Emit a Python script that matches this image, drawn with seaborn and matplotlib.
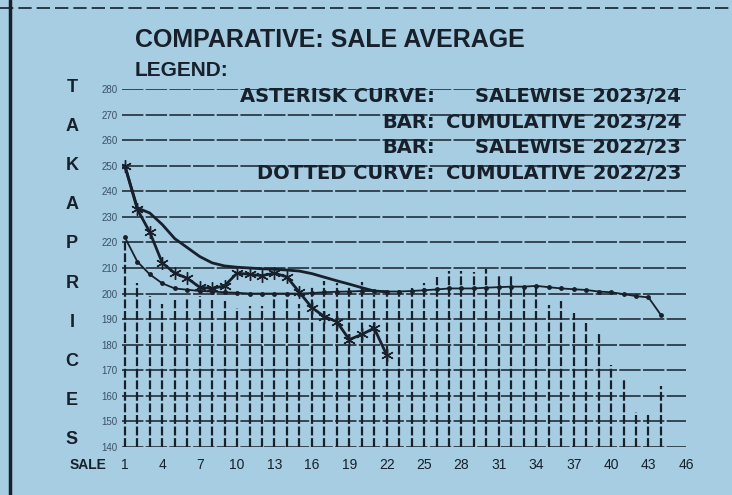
import numpy as np
import pandas as pd
import seaborn as sns
import matplotlib.pyplot as plt
from matplotlib.lines import Line2D

# data
sales = list(range(1, 45))
sale_2022 = [222, 204, 199, 196, 197.5, 198, 199, 197.5, 197, 194.5,
             195, 195, 198, 198, 196, 203, 205, 204, 203, 204.5,
             199.5, 200, 201.5, 202, 204, 206.5, 209, 209, 208.5, 209.5,
             207, 207, 203, 203, 195.5, 197, 192.5, 188.5, 184.5, 172,
             167, 153.5, 153, 164]
cum_2022 = [222, 212.5, 207.5, 204, 202, 201.5, 201, 200.8, 200.5, 200.3,
            200, 200, 200, 200, 200, 200.2, 200.5, 200.7, 200.8, 201,
            201, 200.8, 200.8, 201, 201.3, 201.6, 202, 202, 202, 202.3,
            202.5, 202.7, 202.7, 203, 202.5, 202, 201.7, 201.4, 200.8, 200.5,
            199.8, 199, 198.5, 191.6]
sales_2023 = list(range(1, 23))
sale_2023 = [250, 233, 224, 212, 208, 206, 202.5, 202, 203, 208,
             207.5, 207, 208, 206.5, 200.5, 194.5, 191, 189, 182, 184,
             186.5, 176]
cum_2023 = [250, 233.5, 231.5, 227, 221.5, 218, 214.5, 212, 210.8, 210.3,
            210, 209.7, 209.5, 209.2, 208.8, 207.8, 206.4, 205, 203.7, 202.3,
            201, 200.7]

y_ticks = list(range(140, 290, 10))
x_ticks = list(range(1, 47, 3))
title = "COMPARATIVE: SALE AVERAGE"
legend_keys = ["ASTERISK CURVE:", "BAR:", "BAR:", "DOTTED CURVE:"]
legend_vals = ["SALEWISE 2023/24", "CUMULATIVE 2023/24", "SALEWISE 2022/23", "CUMULATIVE 2022/23"]
legend_rows = [277, 267, 257, 247]
side_label = "TAKAPRICES"

ink = '#17202b'
paper = '#a6cde1'

sns.set_style('white', {'axes.facecolor': paper, 'figure.facecolor': paper})
plt.rcParams['font.family'] = ['Liberation Sans', 'DejaVu Sans']

fig = plt.figure(figsize=(7.32, 4.95), dpi=100)
ax = fig.add_axes([0.1663, 0.097, 0.937 - 0.1663, 0.8202 - 0.097])

#grid lines like the printer rows
for v in y_ticks:
    ax.axhline(v, color=ink, lw=1.1, dashes=(14, 1.5), zorder=1)

#bars
ax.vlines(sales, 140, sale_2022, colors=ink, lw=1.6, linestyles=(0, (4, 1.2)), zorder=2)

df22 = pd.DataFrame({'sale': sales, 'cum': cum_2022})
df23 = pd.DataFrame({'sale': sales_2023, 'salewise': sale_2023, 'cum': cum_2023})

sns.lineplot(data=df22, x='sale', y='cum', ax=ax, color=ink, lw=1.3,
             marker='o', markersize=3.5, markeredgewidth=0, zorder=4)
sns.lineplot(data=df23, x='sale', y='cum', ax=ax, color=ink, lw=2.0, zorder=4)
sns.lineplot(data=df23, x='sale', y='salewise', ax=ax, color=ink, lw=2.0,
             marker=(6, 2, 0), markersize=9, markeredgewidth=1.0,
             markeredgecolor=ink, markerfacecolor=ink, zorder=5)

ax.set_xlim(0.75, 46.0)
ax.set_ylim(140, 280)
ax.set_xticks(x_ticks)
ax.set_yticks(y_ticks)
ax.tick_params(axis='x', length=0, pad=8, labelsize=10, labelcolor=ink)
ax.tick_params(axis='y', length=0, pad=3, labelsize=7, labelcolor='#3b5068')
ax.set_xlabel('')
ax.set_ylabel('')
for s in ax.spines.values():
    s.set_visible(False)

#legend text inside the plot
tr = ax.get_yaxis_transform()
for key, val, row in zip(legend_keys, legend_vals, legend_rows):
    ax.text(0.555, row, key, transform=tr, ha='right', va='center', fontsize=14,
            fontweight='bold', family='DejaVu Sans', color=ink)
    ax.text(0.992, row, val, transform=tr, ha='right', va='center', fontsize=14,
            fontweight='bold', family='DejaVu Sans', color=ink)

fig.text(135 / 732, 1 - 40 / 495, title, fontsize=18, fontweight='bold', va='center', color=ink)
fig.text(135 / 732, 1 - 70 / 495, 'LEGEND:', fontsize=15, fontweight='bold', va='center', color=ink)
fig.text(88 / 732, 1 - 465 / 495, 'SALE', fontsize=10, fontweight='bold', ha='center', va='center', color=ink)

for i, ch in enumerate(side_label):
    fig.text(72 / 732, 1 - (87 + 39.2 * i) / 495, ch, ha='center', va='center',
             fontsize=13, fontweight='bold', color=ink)

#page border
fig.add_artist(Line2D([0.014, 0.014], [0, 1], color=ink, lw=2.5))
fig.add_artist(Line2D([0, 1], [0.984, 0.984], color=ink, lw=1.2, dashes=(8, 3)))

fig.savefig('out.png', dpi=100)
